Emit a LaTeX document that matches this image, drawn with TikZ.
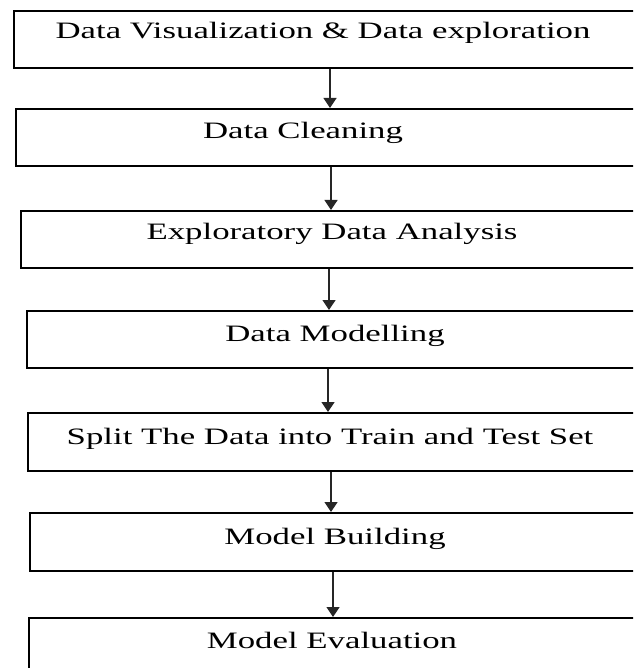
\documentclass[tikz,border=0pt]{standalone}
\usepackage{fontspec}
\setmainfont{Liberation Serif}
\usetikzlibrary{arrows.meta}
\begin{document}
\begin{tikzpicture}[x=1pt,y=-1pt,
  box/.style={draw=black, line width=2.4pt, anchor=north west, minimum width=660pt, inner sep=0pt},
  lbl/.style={font=\fontsize{23.5}{28}\selectfont, xscale=1.48, transform shape, inner sep=0pt, anchor=base},
  arr/.style={draw=black!85, line width=1.3pt, -{Triangle[width=13pt,length=10pt]}}]
\useasboundingbox (0,0) rectangle (633,668);
\clip (0,0) rectangle (633,668);
\node[box, minimum height=57pt] (b1) at (13,10) {};
\node[box, minimum height=57pt] (b2) at (15,108) {};
\node[box, minimum height=57pt] (b3) at (20,210) {};
\node[box, minimum height=57pt] (b4) at (26,310) {};
\node[box, minimum height=58pt] (b5) at (27,412) {};
\node[box, minimum height=58pt] (b6) at (29,512) {};
\node[box, minimum height=80pt] (b7) at (28,617) {};
\node[lbl] (t1) at (323,39) {Data Visualization \& Data exploration};
\node[lbl] (t2) at (303,139) {Data Cleaning};
\node[lbl] (t3) at (332,239) {Exploratory Data Analysis};
\node[lbl] (t4) at (335,341) {Data Modelling};
\node[lbl] (t5) at (330,444) {Split The Data into Train and Test Set};
\node[lbl] (t6) at (335,544) {Model Building};
\node[lbl] (t7) at (332,648) {Model Evaluation};
\coordinate (c1) at (330,0);
\coordinate (c2) at (331,0);
\coordinate (c3) at (329,0);
\coordinate (c4) at (328,0);
\coordinate (c5) at (331,0);
\coordinate (c6) at (333,0);
\draw[arr] (b1.south -| c1) -- (b2.north -| c1);
\draw[arr] (b2.south -| c2) -- (b3.north -| c2);
\draw[arr] (b3.south -| c3) -- (b4.north -| c3);
\draw[arr] (b4.south -| c4) -- (b5.north -| c4);
\draw[arr] (b5.south -| c5) -- (b6.north -| c5);
\draw[arr] (b6.south -| c6) -- (b7.north -| c6);
\end{tikzpicture}
\end{document}
